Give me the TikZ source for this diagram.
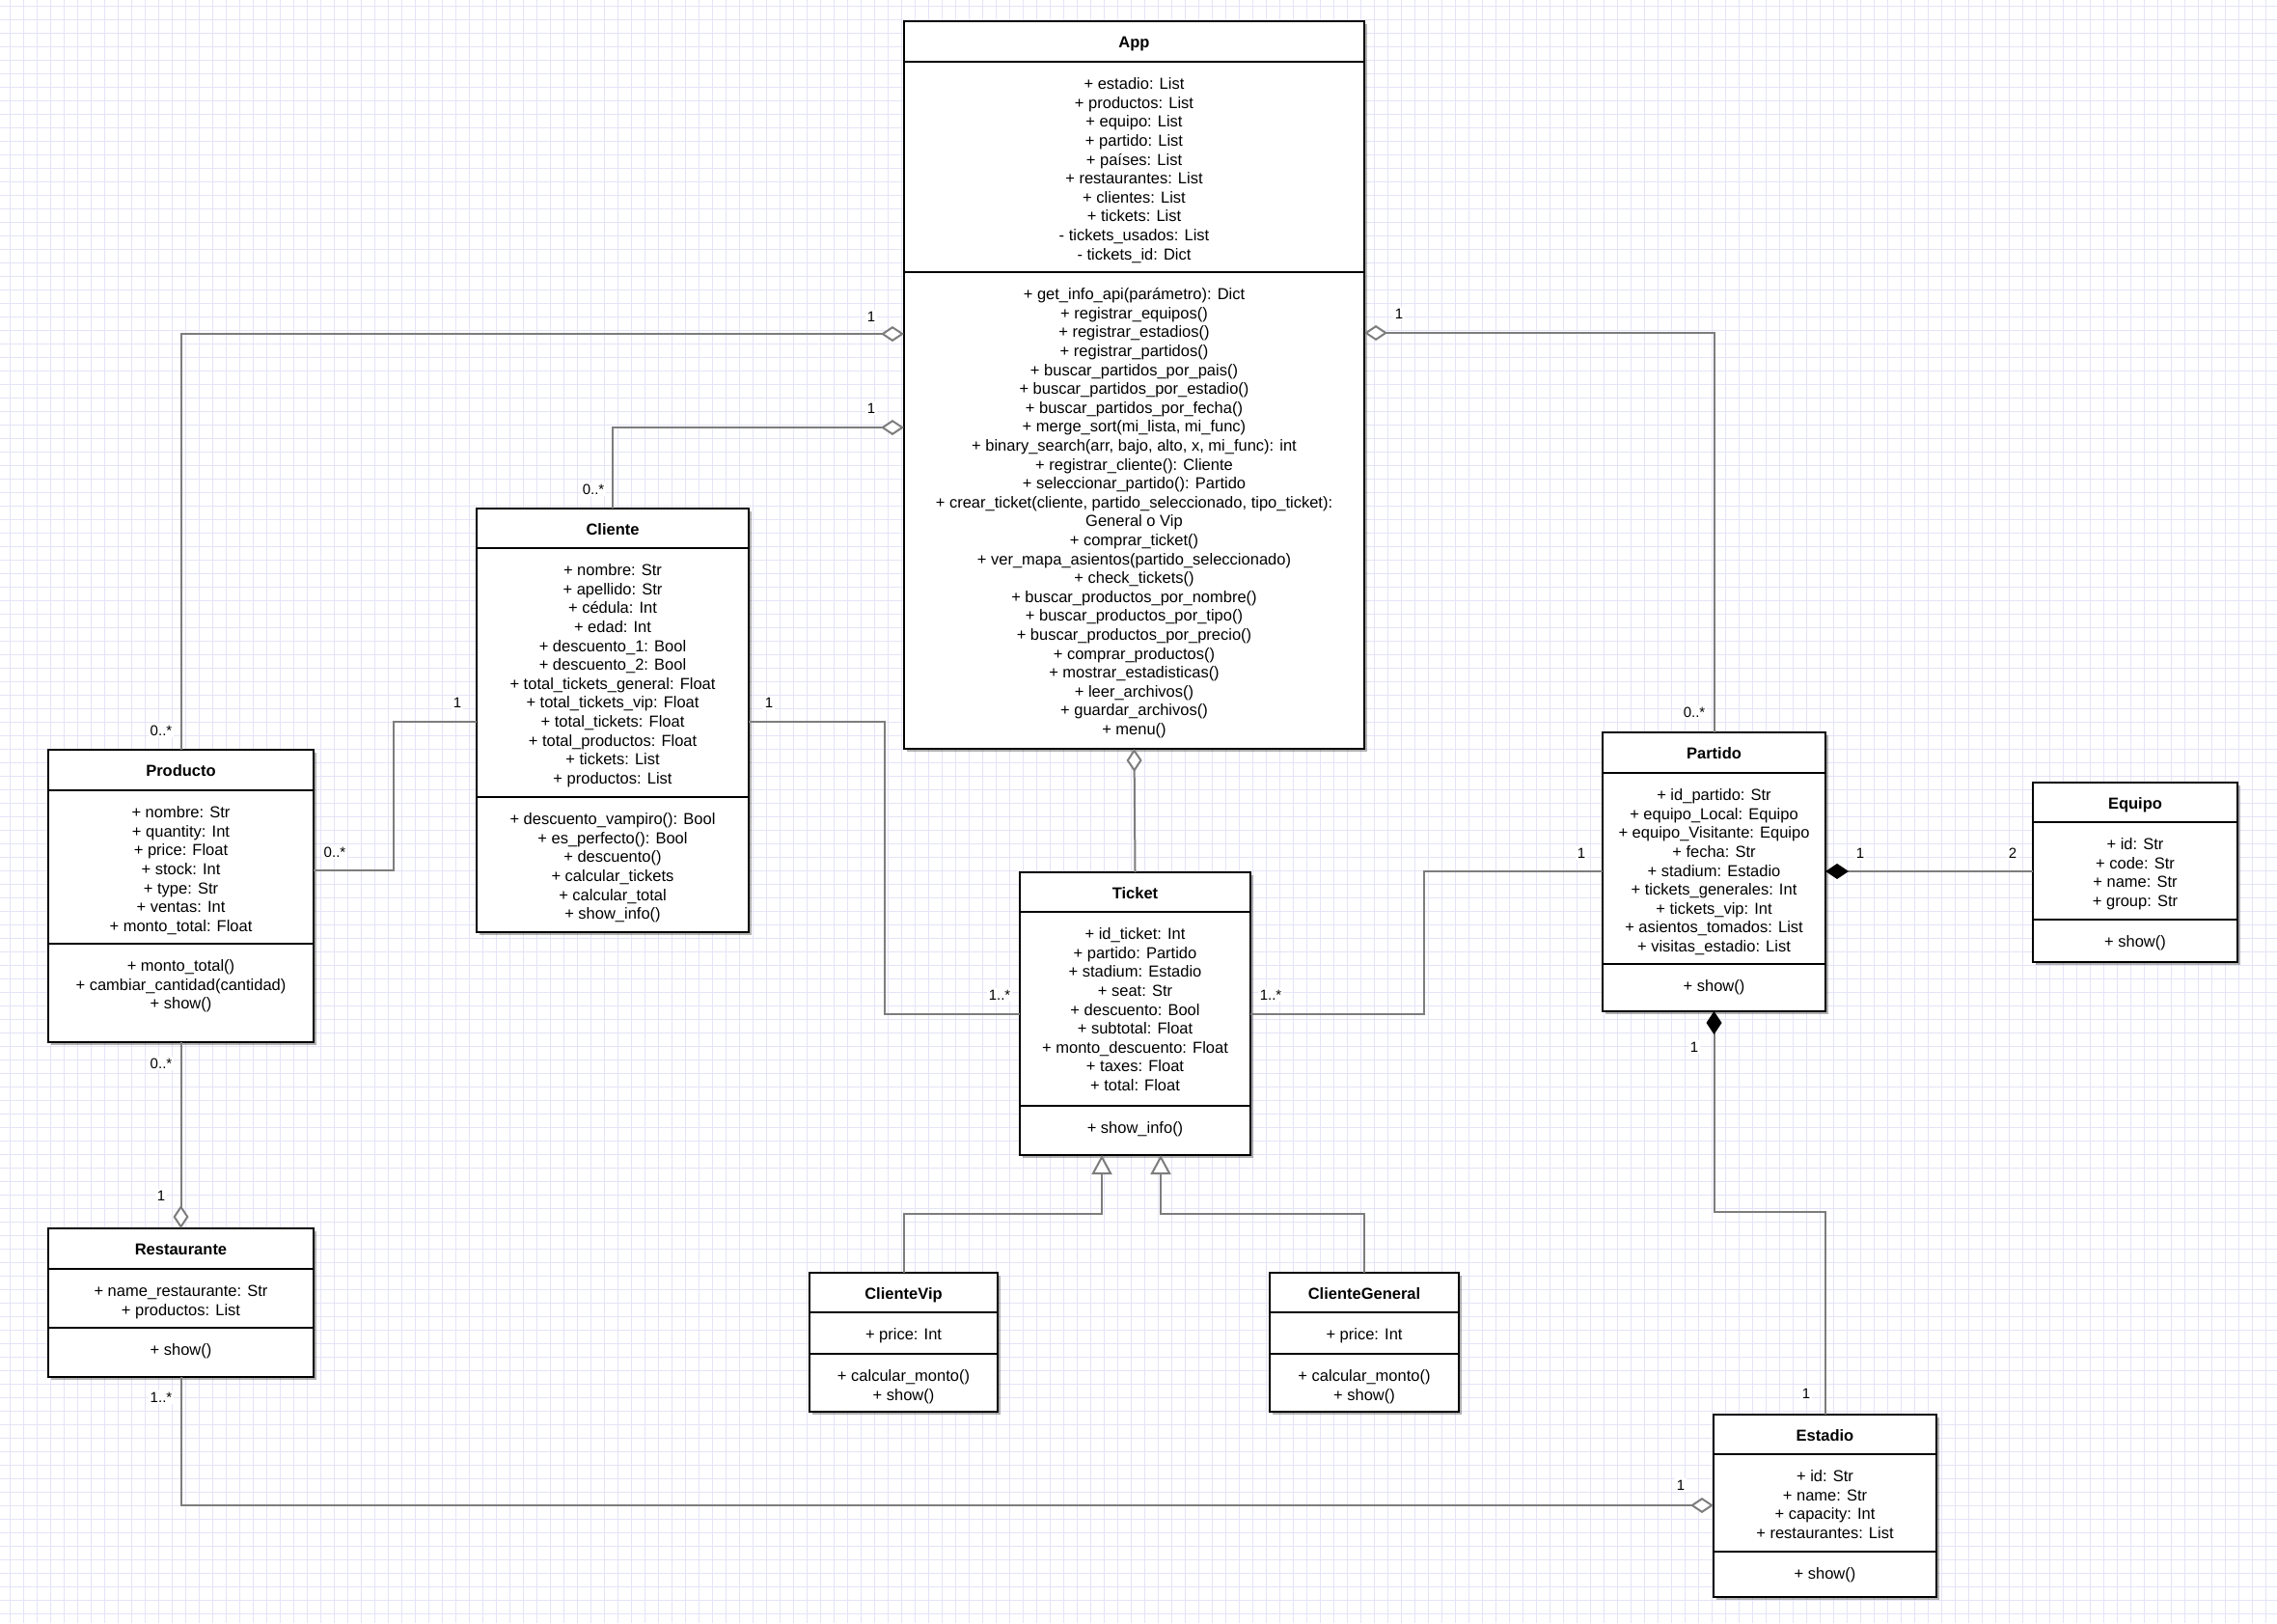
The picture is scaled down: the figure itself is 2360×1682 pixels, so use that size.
\documentclass[tikz,border=0pt]{standalone}
\usepackage{fontspec}
\setmainfont{Liberation Sans}
\usetikzlibrary{shadows,arrows.meta,calc}
\definecolor{gridc}{RGB}{228,228,248}
\definecolor{conn}{RGB}{125,125,125}
\newcommand\memfont{\fontsize{16.5}{19.6}\selectfont}
\newcommand\ttlfont{\bfseries\fontsize{16.5}{19.6}\selectfont}
\newcommand\lblfont{\fontsize{15}{18}\selectfont}
\newcommand\firstln{\rule{0pt}{14pt}}
% #1 name, #2 x1, #3 y0, #4 x2, #5 y3, #6 y1, #7 y2
\newcommand\umlclass[7]{%
  \node[classbox, anchor=north west, minimum width={#4-#2}, minimum height={#5-#3}] (#1) at (#2,#3) {};
  \draw[divider] (#1.west |- 0,#6) -- (#1.east |- 0,#6);
  \draw[divider] (#1.west |- 0,#7) -- (#1.east |- 0,#7);
}
% #1 name, #2 y1, #3 y2, #4 title, #5 attrs, #6 methods
\newcommand\umltext[6]{%
  \node[titletext] (#1-t) at ($(#1.north)+(0,27.5)$) {#4};
  \node[member] (#1-a) at ($(#1.north |- 0,#2)+(0,14.5)$) {\firstln#5};
  \node[member] (#1-m) at ($(#1.north |- 0,#3)+(0,14.5)$) {\firstln#6};
}
\tikzset{
  classbox/.style={draw=black, line width=2.5pt, fill=white, outer sep=0pt, inner sep=0pt,
    drop shadow={shadow xshift=3pt, shadow yshift=-3pt, fill=black, opacity=0.3}},
  divider/.style={draw=black, line width=2.5pt},
  titletext/.style={anchor=base, inner sep=0pt, font=\ttlfont},
  member/.style={anchor=north, align=center, inner sep=0pt, font=\memfont},
  lbl/.style={fill=white, inner sep=1.5pt, font=\lblfont},
  assoc/.style={draw=conn, line width=2pt},
  gridline/.style={draw=gridc, line width=1.2pt},
  odia/.tip={Diamond[fill=white,length=24pt,width=16pt]},
  fdia/.tip={Diamond[fill=black,color=black,length=24pt,width=16pt]},
  gtri/.tip={Triangle[fill=white,length=20pt,width=21pt]},
}
\begin{document}
\begin{tikzpicture}[x=1pt,y=-1pt]
\useasboundingbox (0,0) rectangle (2360,1682);
\fill[white] (0,0) rectangle (2360,1682);
\foreach \i in {0,...,168} \draw[gridline] ({10.7+14*\i},0) -- ({10.7+14*\i},1682);
\foreach \j in {0,...,120} \draw[gridline] (0,{6.7+14*\j}) -- (2360,{6.7+14*\j});

% ---------- classes ----------
\umlclass{App}{937}{22}{1414}{776}{64}{282}
\umltext{App}{64}{282}{App}{%
+ estadio: List\\+ productos: List\\+ equipo: List\\+ partido: List\\+ países: List\\%
+ restaurantes: List\\+ clientes: List\\+ tickets: List\\- tickets\_usados: List\\- tickets\_id: Dict}{%
+ get\_info\_api(parámetro): Dict\\+ registrar\_equipos()\\+ registrar\_estadios()\\+ registrar\_partidos()\\%
+ buscar\_partidos\_por\_pais()\\+ buscar\_partidos\_por\_estadio()\\+ buscar\_partidos\_por\_fecha()\\%
+ merge\_sort(mi\_lista, mi\_func)\\+ binary\_search(arr, bajo, alto, x, mi\_func): int\\%
+ registrar\_cliente(): Cliente\\+ seleccionar\_partido(): Partido\\%
+ crear\_ticket(cliente, partido\_seleccionado, tipo\_ticket):\\General o Vip\\%
+ comprar\_ticket()\\+ ver\_mapa\_asientos(partido\_seleccionado)\\+ check\_tickets()\\%
+ buscar\_productos\_por\_nombre()\\+ buscar\_productos\_por\_tipo()\\+ buscar\_productos\_por\_precio()\\%
+ comprar\_productos()\\+ mostrar\_estadisticas()\\+ leer\_archivos()\\+ guardar\_archivos()\\+ menu()}

\umlclass{Cliente}{494}{527}{776}{966}{568}{826}
\umltext{Cliente}{568}{826}{Cliente}{%
+ nombre: Str\\+ apellido: Str\\+ cédula: Int\\+ edad: Int\\+ descuento\_1: Bool\\+ descuento\_2: Bool\\%
+ total\_tickets\_general: Float\\+ total\_tickets\_vip: Float\\+ total\_tickets: Float\\%
+ total\_productos: Float\\+ tickets: List\\+ productos: List}{%
+ descuento\_vampiro(): Bool\\+ es\_perfecto(): Bool\\+ descuento()\\+ calcular\_tickets\\+ calcular\_total\\+ show\_info()}

\umlclass{Producto}{50}{777}{325}{1080}{819}{978}
\umltext{Producto}{819}{978}{Producto}{%
+ nombre: Str\\+ quantity: Int\\+ price: Float\\+ stock: Int\\+ type: Str\\+ ventas: Int\\+ monto\_total: Float}{%
+ monto\_total()\\+ cambiar\_cantidad(cantidad)\\+ show()}

\umlclass{Restaurante}{50}{1273}{325}{1427}{1315}{1376}
\umltext{Restaurante}{1315}{1376}{Restaurante}{%
+ name\_restaurante: Str\\+ productos: List}{+ show()}

\umlclass{Ticket}{1057}{904}{1296}{1197}{945}{1146}
\umltext{Ticket}{945}{1146}{Ticket}{%
+ id\_ticket: Int\\+ partido: Partido\\+ stadium: Estadio\\+ seat: Str\\+ descuento: Bool\\%
+ subtotal: Float\\+ monto\_descuento: Float\\+ taxes: Float\\+ total: Float}{+ show\_info()}

\umlclass{ClienteVip}{839}{1319}{1034}{1463}{1360}{1403}
\umltext{ClienteVip}{1360}{1403}{ClienteVip}{+ price: Int}{+ calcular\_monto()\\+ show()}

\umlclass{ClienteGeneral}{1316}{1319}{1512}{1463}{1360}{1403}
\umltext{ClienteGeneral}{1360}{1403}{ClienteGeneral}{+ price: Int}{+ calcular\_monto()\\+ show()}

\umlclass{Partido}{1661}{759}{1892}{1048}{801}{999}
\umltext{Partido}{801}{999}{Partido}{%
+ id\_partido: Str\\+ equipo\_Local: Equipo\\+ equipo\_Visitante: Equipo\\+ fecha: Str\\+ stadium: Estadio\\%
+ tickets\_generales: Int\\+ tickets\_vip: Int\\+ asientos\_tomados: List\\+ visitas\_estadio: List}{+ show()}

\umlclass{Equipo}{2107}{811}{2319}{997}{852}{953}
\umltext{Equipo}{852}{953}{Equipo}{+ id: Str\\+ code: Str\\+ name: Str\\+ group: Str}{+ show()}

\umlclass{Estadio}{1776}{1466}{2007}{1655}{1507}{1608}
\umltext{Estadio}{1507}{1608}{Estadio}{+ id: Str\\+ name: Str\\+ capacity: Int\\+ restaurantes: List}{+ show()}

% ---------- connectors ----------
\draw[assoc, odia-] (App.west |- 0,346) -| (Producto.north);
\draw[assoc, odia-] (App.west |- 0,443) -| (Cliente.north);
\draw[assoc, odia-] (App.east |- 0,345) -| (Partido.north);
\draw[assoc, odia-] (App.south) -- (Ticket.north);
\draw[assoc] (Cliente.west |- 0,748) -- ++(-86,0) |- (Producto.east |- 0,902);
\draw[assoc] (Cliente.east |- 0,748) -- ++(141,0) |- (Ticket.west |- 0,1051);
\draw[assoc] (Ticket.east |- 0,1051) -- ++(180,0) |- (Partido.west |- 0,903);
\draw[assoc, fdia-] (Partido.east |- 0,903) -- (Equipo.west |- 0,903);
\draw[assoc, fdia-] (Partido.south) -- ++(0,208) -| (Estadio.north);
\draw[assoc, -odia] (Producto.south) -- (Restaurante.north);
\draw[assoc, -odia] (Restaurante.south) |- (Estadio.west |- 0,1560);
\draw[assoc, -gtri] (ClienteVip.north) -- ++(0,-61) -| ($(Ticket.south)+(-34.5,0)$);
\draw[assoc, -gtri] (ClienteGeneral.north) -- ++(0,-61) -| ($(Ticket.south)+(26.5,0)$);

% ---------- multiplicities ----------
\node[lbl] (m1) at (903,328) {1};
\node[lbl] (m2) at (167,757) {0..*};
\node[lbl] (m3) at (903,423) {1};
\node[lbl] (m4) at (615,507) {0..*};
\node[lbl] (m5) at (474,728) {1};
\node[lbl] (m6) at (347,883) {0..*};
\node[lbl] (m7) at (797,728) {1};
\node[lbl] (m8) at (1036,1031) {1..*};
\node[lbl] (m9) at (1317,1031) {1..*};
\node[lbl] (m10) at (1639,884) {1};
\node[lbl] (m11) at (1450,325) {1};
\node[lbl] (m12) at (1756,738) {0..*};
\node[lbl] (m13) at (1928,884) {1};
\node[lbl] (m14) at (2086,884) {2};
\node[lbl] (m15) at (1756,1085) {1};
\node[lbl] (m16) at (1872,1444) {1};
\node[lbl] (m17) at (167,1102) {0..*};
\node[lbl] (m18) at (167,1239) {1};
\node[lbl] (m19) at (167,1448) {1..*};
\node[lbl] (m20) at (1742,1539) {1};
\end{tikzpicture}
\end{document}
